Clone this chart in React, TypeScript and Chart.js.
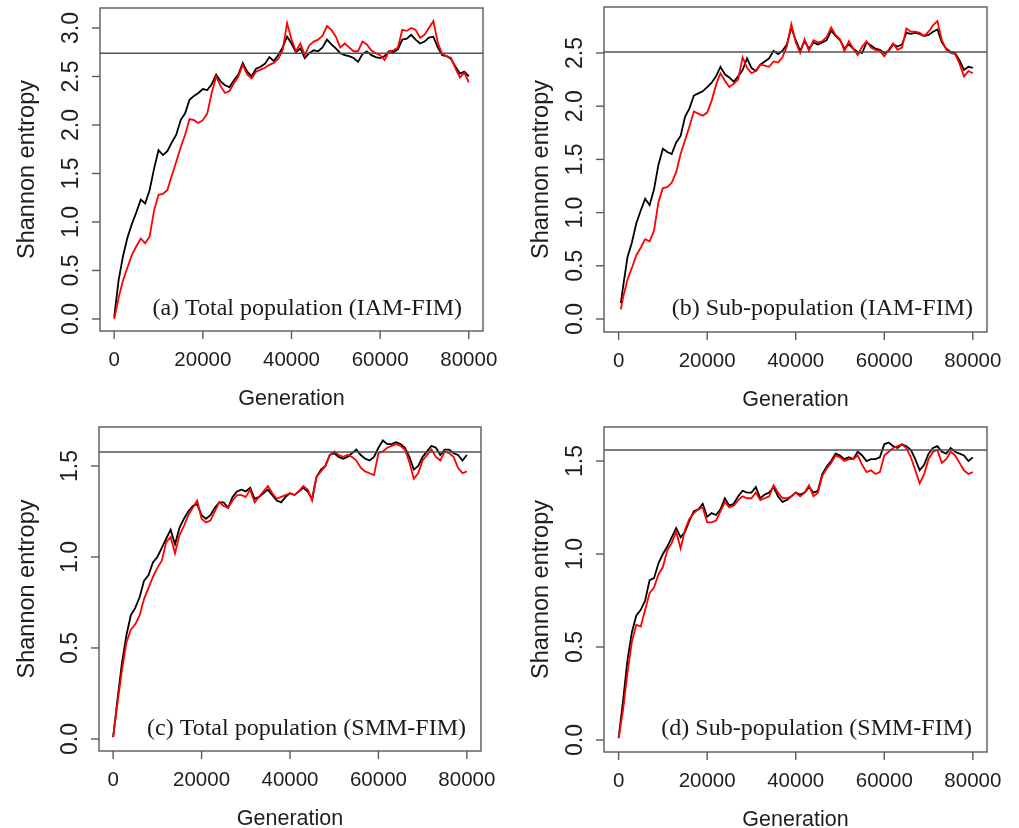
import React, { useEffect, useRef } from "react";
import { Chart, registerables } from "chart.js";

Chart.register(...registerables);

// ---------- data ----------
const GENERATIONS = [
  0, 1000, 2000, 3000, 4000, 5000, 6000, 7000, 8000, 9000,
  10000, 11000, 12000, 13000, 14000, 15000, 16000, 17000, 18000, 19000,
  20000, 21000, 22000, 23000, 24000, 25000, 26000, 27000, 28000, 29000,
  30000, 31000, 32000, 33000, 34000, 35000, 36000, 37000, 38000, 39000,
  40000, 41000, 42000, 43000, 44000, 45000, 46000, 47000, 48000, 49000,
  50000, 51000, 52000, 53000, 54000, 55000, 56000, 57000, 58000, 59000,
  60000, 61000, 62000, 63000, 64000, 65000, 66000, 67000, 68000, 69000,
  70000, 71000, 72000, 73000, 74000, 75000, 76000, 77000, 78000, 79000,
  80000,
];
const GENERATIONS_SUB_IAM = [
  500, 1000, 2000, 3000, 4000, 5000, 6000, 7000, 8000, 9000,
  10000, 11000, 12000, 13000, 14000, 15000, 16000, 17000, 18000, 19000,
  20000, 21000, 22000, 23000, 24000, 25000, 26000, 27000, 28000, 29000,
  30000, 31000, 32000, 33000, 34000, 35000, 36000, 37000, 38000, 39000,
  40000, 41000, 42000, 43000, 44000, 45000, 46000, 47000, 48000, 49000,
  50000, 51000, 52000, 53000, 54000, 55000, 56000, 57000, 58000, 59000,
  60000, 61000, 62000, 63000, 64000, 65000, 66000, 67000, 68000, 69000,
  70000, 71000, 72000, 73000, 74000, 75000, 76000, 77000, 78000, 79000,
  80000,
];

// (a) Total population (IAM-FIM)
const A_BLACK = [
  0.02, 0.40, 0.65, 0.84, 0.98, 1.10, 1.23, 1.19, 1.33, 1.55,
  1.74, 1.69, 1.73, 1.82, 1.90, 2.05, 2.12, 2.26, 2.30, 2.33,
  2.37, 2.36, 2.42, 2.52, 2.45, 2.41, 2.39, 2.46, 2.52, 2.64,
  2.55, 2.50, 2.58, 2.60, 2.63, 2.70, 2.66, 2.72, 2.80, 2.91,
  2.84, 2.75, 2.79, 2.69, 2.74, 2.77, 2.76, 2.80, 2.88, 2.83,
  2.79, 2.74, 2.72, 2.71, 2.69, 2.65, 2.73, 2.76, 2.72, 2.70,
  2.69, 2.71, 2.76, 2.75, 2.78, 2.88, 2.89, 2.93, 2.88, 2.84,
  2.86, 2.90, 2.91, 2.80, 2.72, 2.71, 2.68, 2.60, 2.53, 2.55,
  2.50,
];
const A_RED = [
  0.00, 0.22, 0.40, 0.53, 0.66, 0.75, 0.83, 0.78, 0.85, 1.12,
  1.28, 1.29, 1.33, 1.48, 1.62, 1.77, 1.90, 2.06, 2.05, 2.02,
  2.05, 2.12, 2.33, 2.50, 2.40, 2.33, 2.35, 2.43, 2.50, 2.62,
  2.52, 2.48, 2.55, 2.57, 2.59, 2.62, 2.64, 2.68, 2.77, 3.05,
  2.88, 2.76, 2.84, 2.72, 2.82, 2.86, 2.88, 2.92, 3.02, 2.98,
  2.91, 2.80, 2.84, 2.80, 2.76, 2.76, 2.86, 2.83, 2.77, 2.74,
  2.72, 2.67, 2.76, 2.77, 2.80, 2.98, 2.97, 3.00, 2.98, 2.90,
  2.93, 3.00, 3.07, 2.85, 2.73, 2.71, 2.69, 2.58, 2.49, 2.54,
  2.44,
];
const A_REFERENCE = 2.74;

// (b) Sub-population (IAM-FIM)
const B_BLACK = [
  0.15, 0.30, 0.58, 0.72, 0.90, 1.02, 1.13, 1.07, 1.22, 1.45,
  1.60, 1.57, 1.55, 1.66, 1.72, 1.90, 1.98, 2.10, 2.12, 2.14,
  2.18, 2.22, 2.28, 2.37, 2.30, 2.27, 2.23, 2.28, 2.34, 2.45,
  2.36, 2.33, 2.39, 2.42, 2.45, 2.52, 2.49, 2.52, 2.58, 2.74,
  2.62, 2.52, 2.61, 2.54, 2.60, 2.58, 2.60, 2.62, 2.71, 2.66,
  2.62, 2.54, 2.58, 2.54, 2.51, 2.50, 2.60, 2.57, 2.54, 2.53,
  2.50, 2.52, 2.58, 2.56, 2.58, 2.69, 2.68, 2.69, 2.68, 2.66,
  2.67, 2.70, 2.72, 2.60, 2.54, 2.51, 2.50, 2.43, 2.34, 2.37,
  2.36,
];
const B_RED = [
  0.09, 0.20, 0.37, 0.48, 0.60, 0.67, 0.75, 0.73, 0.83, 1.10,
  1.23, 1.24, 1.28, 1.38, 1.55, 1.68, 1.81, 1.95, 1.93, 1.91,
  1.94, 2.05, 2.20, 2.31, 2.24, 2.18, 2.21, 2.25, 2.46, 2.36,
  2.31, 2.33, 2.39, 2.38, 2.37, 2.42, 2.41, 2.46, 2.56, 2.77,
  2.60, 2.50, 2.63, 2.52, 2.62, 2.60, 2.61, 2.65, 2.74, 2.67,
  2.63, 2.52, 2.61, 2.54, 2.48, 2.56, 2.61, 2.55, 2.53, 2.52,
  2.47, 2.53, 2.59, 2.53, 2.55, 2.73, 2.70, 2.70, 2.69, 2.66,
  2.70, 2.76, 2.80, 2.62, 2.53, 2.50, 2.49, 2.40, 2.28, 2.33,
  2.31,
];
const B_REFERENCE = 2.51;

// (c) Total population (SMM-FIM)
const C_BLACK = [
  0.01, 0.22, 0.42, 0.57, 0.68, 0.72, 0.78, 0.87, 0.90, 0.97,
  1.00, 1.05, 1.10, 1.15, 1.07, 1.16, 1.21, 1.25, 1.28, 1.29,
  1.23, 1.21, 1.23, 1.27, 1.30, 1.30, 1.27, 1.33, 1.36, 1.37,
  1.36, 1.38, 1.32, 1.33, 1.35, 1.37, 1.34, 1.31, 1.30, 1.33,
  1.35, 1.34, 1.36, 1.38, 1.36, 1.32, 1.44, 1.48, 1.50, 1.56,
  1.57, 1.55, 1.54, 1.55, 1.57, 1.59, 1.56, 1.54, 1.53, 1.55,
  1.60, 1.64, 1.62, 1.62, 1.63, 1.62, 1.60, 1.55, 1.48, 1.50,
  1.55, 1.58, 1.61, 1.60, 1.56, 1.59, 1.59, 1.57, 1.56, 1.53,
  1.56,
];
const C_RED = [
  0.01, 0.20, 0.38, 0.53, 0.60, 0.63, 0.68, 0.77, 0.83, 0.89,
  0.94, 0.98, 1.08, 1.11, 1.02, 1.12, 1.17, 1.23, 1.27, 1.31,
  1.21, 1.19, 1.20, 1.25, 1.30, 1.28, 1.27, 1.31, 1.34, 1.34,
  1.33, 1.37, 1.30, 1.33, 1.36, 1.39, 1.35, 1.32, 1.33, 1.34,
  1.35, 1.34, 1.36, 1.39, 1.37, 1.31, 1.44, 1.47, 1.50, 1.56,
  1.58, 1.56, 1.55, 1.56, 1.55, 1.53, 1.49, 1.47, 1.46, 1.45,
  1.57, 1.58, 1.60, 1.61, 1.62, 1.61, 1.59, 1.52, 1.43, 1.46,
  1.53, 1.56, 1.59, 1.55, 1.53, 1.58, 1.57, 1.55, 1.49, 1.46,
  1.47,
];
const C_REFERENCE = 1.577;

// (d) Sub-population (SMM-FIM)
const D_BLACK = [
  0.01, 0.21, 0.43, 0.58, 0.67, 0.70, 0.75, 0.86, 0.87, 0.95,
  1.00, 1.04, 1.09, 1.14, 1.09, 1.12, 1.18, 1.23, 1.24, 1.27,
  1.20, 1.22, 1.21, 1.24, 1.30, 1.26, 1.27, 1.31, 1.34, 1.33,
  1.33, 1.36, 1.30, 1.32, 1.33, 1.36, 1.31, 1.28, 1.29, 1.31,
  1.33, 1.32, 1.33, 1.36, 1.33, 1.34, 1.43, 1.47, 1.50, 1.54,
  1.53, 1.51, 1.52, 1.51, 1.55, 1.53, 1.50, 1.51, 1.51, 1.52,
  1.59, 1.60, 1.58, 1.57, 1.59, 1.58, 1.56, 1.51, 1.45, 1.48,
  1.54, 1.57, 1.58, 1.55, 1.54, 1.57, 1.55, 1.54, 1.53, 1.50,
  1.52,
];
const D_RED = [
  0.01, 0.16, 0.36, 0.53, 0.62, 0.61, 0.70, 0.79, 0.82, 0.89,
  0.93, 1.02, 1.06, 1.12, 1.03, 1.13, 1.19, 1.22, 1.24, 1.25,
  1.17, 1.17, 1.18, 1.23, 1.28, 1.25, 1.26, 1.29, 1.31, 1.30,
  1.30, 1.33, 1.29, 1.30, 1.31, 1.37, 1.33, 1.30, 1.30, 1.31,
  1.33, 1.31, 1.33, 1.37, 1.31, 1.33, 1.42, 1.46, 1.49, 1.53,
  1.52, 1.50, 1.51, 1.51, 1.53, 1.48, 1.44, 1.45, 1.43, 1.44,
  1.53, 1.55, 1.57, 1.58, 1.59, 1.57, 1.52, 1.45, 1.38, 1.43,
  1.51, 1.55, 1.56, 1.49, 1.51, 1.55, 1.53, 1.49, 1.45, 1.43,
  1.44,
];
const D_REFERENCE = 1.559;

const X_TICKS = [0, 20000, 40000, 60000, 80000];
const X_TICK_LABELS = ["0", "20000", "40000", "60000", "80000"];
const Y_TICKS_A = [0, 0.5, 1, 1.5, 2, 2.5, 3];
const Y_TICK_LABELS_A = ["0.0", "0.5", "1.0", "1.5", "2.0", "2.5", "3.0"];
const Y_TICKS_B = [0, 0.5, 1, 1.5, 2, 2.5];
const Y_TICK_LABELS_B = ["0.0", "0.5", "1.0", "1.5", "2.0", "2.5"];
const Y_TICKS_CD = [0, 0.5, 1, 1.5];
const Y_TICK_LABELS_CD = ["0.0", "0.5", "1.0", "1.5"];

const X_TITLE = "Generation";
const Y_TITLE = "Shannon entropy";
const PANEL_TITLES = [
  "(a) Total population (IAM-FIM)",
  "(b) Sub-population (IAM-FIM)",
  "(c) Total population (SMM-FIM)",
  "(d) Sub-population (SMM-FIM)",
];

// ---------- layout / style ----------
const SANS = '"Liberation Sans", Arial, sans-serif';
const SERIF = '"Liberation Serif", "Times New Roman", serif';
const TEXT_COLOR = "#1e1e1e";
const BOX_COLOR = "#5a5a5a";

type PanelCfg = {
  left: number; top: number; w: number; h: number;
  pad: { left: number; top: number; right: number; bottom: number };
  gens: number[]; black: number[]; red: number[]; ref: number;
  xmin: number; xmax: number; ymin: number; ymax: number;
  yTicks: number[]; yTickLabels: string[];
  title: string; titleRight: number; titleBase: number;
  yTitleX: number;
};

const PANELS: PanelCfg[] = [
  {
    left: 0, top: 0, w: 505, h: 414,
    pad: { left: 100, top: 8, right: 22, bottom: 83 },
    gens: GENERATIONS, black: A_BLACK, red: A_RED, ref: A_REFERENCE,
    xmin: -3200, xmax: 83200, ymin: -0.124, ymax: 3.206,
    yTicks: Y_TICKS_A, yTickLabels: Y_TICK_LABELS_A,
    title: PANEL_TITLES[0], titleRight: 462, titleBase: 315, yTitleX: 34,
  },
  {
    left: 505, top: 0, w: 514, h: 414,
    pad: { left: 99, top: 7, right: 32, bottom: 82 },
    gens: GENERATIONS_SUB_IAM, black: B_BLACK, red: B_RED, ref: B_REFERENCE,
    xmin: -3300, xmax: 83200, ymin: -0.122, ymax: 2.932,
    yTicks: Y_TICKS_B, yTickLabels: Y_TICK_LABELS_B,
    title: PANEL_TITLES[1], titleRight: 973 - 505, titleBase: 315, yTitleX: 548 - 505,
  },
  {
    left: 0, top: 414, w: 505, h: 414,
    pad: { left: 99, top: 13, right: 24, bottom: 77 },
    gens: GENERATIONS, black: C_BLACK, red: C_RED, ref: C_REFERENCE,
    xmin: -3200, xmax: 83200, ymin: -0.066, ymax: 1.714,
    yTicks: Y_TICKS_CD, yTickLabels: Y_TICK_LABELS_CD,
    title: PANEL_TITLES[2], titleRight: 466, titleBase: 735 - 414, yTitleX: 34,
  },
  {
    left: 505, top: 414, w: 514, h: 414,
    pad: { left: 99, top: 13, right: 32, bottom: 76 },
    gens: GENERATIONS, black: D_BLACK, red: D_RED, ref: D_REFERENCE,
    xmin: -3300, xmax: 83200, ymin: -0.0645, ymax: 1.683,
    yTicks: Y_TICKS_CD, yTickLabels: Y_TICK_LABELS_CD,
    title: PANEL_TITLES[3], titleRight: 972 - 505, titleBase: 735 - 414, yTitleX: 548 - 505,
  },
];

function makeDecor(cfg: PanelCfg) {
  return {
    id: "rDecor",
    afterDatasetsDraw(chart: any) {
      const ctx: CanvasRenderingContext2D = chart.ctx;
      const { left, right, top, bottom } = chart.chartArea;
      const xs = chart.scales.x;
      const ys = chart.scales.y;
      ctx.save();
      // reference line
      const yr = ys.getPixelForValue(cfg.ref);
      ctx.strokeStyle = "#505050";
      ctx.lineWidth = 1.5;
      ctx.beginPath();
      ctx.moveTo(left, yr);
      ctx.lineTo(right, yr);
      ctx.stroke();
      // box
      ctx.strokeStyle = BOX_COLOR;
      ctx.lineWidth = 1.4;
      ctx.strokeRect(left, top, right - left, bottom - top);
      // x ticks
      ctx.fillStyle = TEXT_COLOR;
      ctx.font = `20.5px ${SANS}`;
      ctx.textAlign = "center";
      ctx.textBaseline = "alphabetic";
      X_TICKS.forEach((v, i) => {
        const px = xs.getPixelForValue(v);
        ctx.beginPath();
        ctx.moveTo(px, bottom);
        ctx.lineTo(px, bottom + 8);
        ctx.stroke();
        ctx.fillText(X_TICK_LABELS[i], px, bottom + 35);
      });
      // y ticks
      ctx.font = `23px ${SANS}`;
      cfg.yTicks.forEach((v, i) => {
        const py = ys.getPixelForValue(v);
        ctx.beginPath();
        ctx.moveTo(left, py);
        ctx.lineTo(left - 8, py);
        ctx.stroke();
        ctx.save();
        ctx.translate(left - 22, py);
        ctx.rotate(-Math.PI / 2);
        ctx.fillText(cfg.yTickLabels[i], 0, 0);
        ctx.restore();
      });
      // axis titles
      ctx.font = `21.5px ${SANS}`;
      ctx.fillText(X_TITLE, (left + right) / 2, bottom + 74);
      ctx.save();
      ctx.font = `23.5px ${SANS}`;
      ctx.translate(cfg.yTitleX, (top + bottom) / 2);
      ctx.rotate(-Math.PI / 2);
      ctx.fillText(Y_TITLE, 0, 0);
      ctx.restore();
      // panel label
      ctx.font = `24px ${SERIF}`;
      ctx.textAlign = "right";
      ctx.fillStyle = "#1a1a1a";
      ctx.fillText(cfg.title, cfg.titleRight, cfg.titleBase);
      ctx.restore();
    },
  };
}

function Panel({ cfg }: { cfg: PanelCfg }) {
  const ref = useRef<HTMLCanvasElement>(null);
  useEffect(() => {
    const canvas = ref.current!;
    const toPts = (ys: number[]) => ys.map((y, i) => ({ x: cfg.gens[i], y }));
    const chart = new Chart(canvas, {
      type: "line",
      data: {
        datasets: [
          {
            label: "red",
            data: toPts(cfg.red),
            borderColor: "#ff0000",
            borderWidth: 1.8,
            pointRadius: 0,
            tension: 0,
            fill: false,
          },
          {
            label: "black",
            data: toPts(cfg.black),
            borderColor: "#000000",
            borderWidth: 1.8,
            pointRadius: 0,
            tension: 0,
            fill: false,
          },
        ],
      },
      options: {
        responsive: false,
        animation: false,
        events: [],
        layout: { padding: cfg.pad },
        plugins: { legend: { display: false }, tooltip: { enabled: false } },
        scales: {
          x: { type: "linear", min: cfg.xmin, max: cfg.xmax, display: false },
          y: { type: "linear", min: cfg.ymin, max: cfg.ymax, display: false },
        },
      },
      plugins: [makeDecor(cfg)],
    });
    return () => chart.destroy();
  }, [cfg]);
  return (
    <canvas
      ref={ref}
      width={cfg.w}
      height={cfg.h}
      style={{ position: "absolute", left: cfg.left, top: cfg.top, width: cfg.w, height: cfg.h, display: "block" }}
    />
  );
}

export default function App() {
  return (
    <div style={{ position: "absolute", left: 0, top: 0, width: 1019, height: 828, background: "#ffffff", overflow: "hidden" }}>
      {PANELS.map((p, i) => (
        <Panel key={i} cfg={p} />
      ))}
    </div>
  );
}
